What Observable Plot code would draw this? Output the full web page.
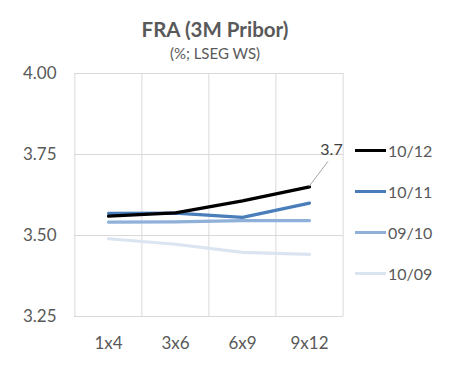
<!DOCTYPE html>
<html>
<head>
<meta charset="utf-8">
<script src="https://cdn.jsdelivr.net/npm/d3@7"></script>
<script src="https://cdn.jsdelivr.net/npm/@observablehq/plot@0.6"></script>
<style>
  html, body { margin: 0; padding: 0; background: #fff; }
  body { width: 458px; height: 376px; position: relative; overflow: hidden; font-family: Lato, "Open Sans", sans-serif; }
  #title { position: absolute; z-index: 2; left: 0; top: 17px; width: 430px; text-align: center; font-size: 20.5px; font-weight: bold; color: #595959; }
  #subtitle { position: absolute; z-index: 2; left: 0; top: 44px; width: 430px; text-align: center; font-size: 15px; color: #595959; }
  #chart { position: absolute; z-index: 1; left: 0; top: 60px; }
  #legend { position: absolute; z-index: 2; left: 355px; top: 130px; }
  .item { display: flex; align-items: center; height: 41px; font-size: 16px; color: #595959; }
  .sw { width: 31px; height: 3.5px; margin-right: 2px; }
</style>
</head>
<body>
<div id="title">FRA (3M Pribor)</div>
<div id="subtitle">(%; LSEG WS)</div>
<div id="chart"></div>
<div id="legend"></div>
<script>
const tenors = ["1x4", "3x6", "6x9", "9x12"];
const seriesNames = ["10/12", "10/11", "09/10", "10/09"];
const s1012 = [3.56, 3.57, 3.607, 3.65];
const s1011 = [3.568, 3.569, 3.556, 3.60];
const s0910 = [3.541, 3.542, 3.546, 3.546];
const s1009 = [3.49, 3.473, 3.448, 3.442];
const yTicks = [3.25, 3.50, 3.75, 4.00];
const colors = ["#000000", "#4a7ebb", "#8fb0d9", "#dbe5f1"];
const labelText = "3.7";

const allSeries = [s1012, s1011, s0910, s1009];
const data = [];
for (let k = allSeries.length - 1; k >= 0; k--) {
  tenors.forEach((t, i) => data.push({series: seriesNames[k], tenor: t, value: allSeries[k][i]}));
}
const lastPoint = [{tenor: tenors[3], value: s1012[3], label: labelText}];

const W = 458, ML = 74, MR = 115;
const step = (W - ML - MR) / tenors.length;

const leader = (index, scales) => {
  const x = scales.x(lastPoint[0].tenor);
  const y = scales.y(lastPoint[0].value);
  const g = document.createElementNS("http://www.w3.org/2000/svg", "line");
  g.setAttribute("x1", x);
  g.setAttribute("y1", y);
  g.setAttribute("x2", x + 19);
  g.setAttribute("y2", y - 25);
  g.setAttribute("stroke", "#a6a6a6");
  g.setAttribute("stroke-width", "1");
  return g;
};

const chart = Plot.plot({
  width: W,
  height: 316,
  marginLeft: ML,
  marginRight: MR,
  marginTop: 13,
  marginBottom: 60,
  style: {fontFamily: "Lato, 'Open Sans', sans-serif", fontSize: "17px", color: "#595959", background: "transparent"},
  x: {type: "point", domain: tenors, padding: 0.5, align: 0.5, label: null},
  y: {domain: [3.25, 4.0], label: null},
  color: {domain: seriesNames, range: colors},
  marks: [
    Plot.gridY(yTicks, {stroke: "#d9d9d9", strokeOpacity: 1, strokeWidth: 1}),
    Plot.gridX(tenors, {stroke: "#d9d9d9", strokeOpacity: 1, strokeWidth: 1, dx: -step / 2}),
    Plot.ruleX([tenors[3]], {stroke: "#d9d9d9", strokeWidth: 1, dx: step / 2}),
    Plot.axisY(yTicks, {tickFormat: d3.format(".2f"), tickSize: 0, tickPadding: 18, fontSize: 17, fill: "#595959"}),
    Plot.axisX(tenors, {tickSize: 0, tickPadding: 20, fontSize: 17, fill: "#595959"}),
    Plot.line(data, {x: "tenor", y: "value", z: "series", stroke: "series", strokeWidth: 3.2, curve: "linear"}),
    leader,
    Plot.text(lastPoint, {x: "tenor", y: "value", text: "label", dx: 22, dy: -37, fill: "#404040", fontSize: 16})
  ]
});
document.getElementById("chart").appendChild(chart);

const legend = document.getElementById("legend");
seriesNames.forEach((n, i) => {
  const div = document.createElement("div");
  div.className = "item";
  div.innerHTML = `<span class="sw" style="background:${colors[i]}"></span><span>${n}</span>`;
  legend.appendChild(div);
});
</script>
</body>
</html>
